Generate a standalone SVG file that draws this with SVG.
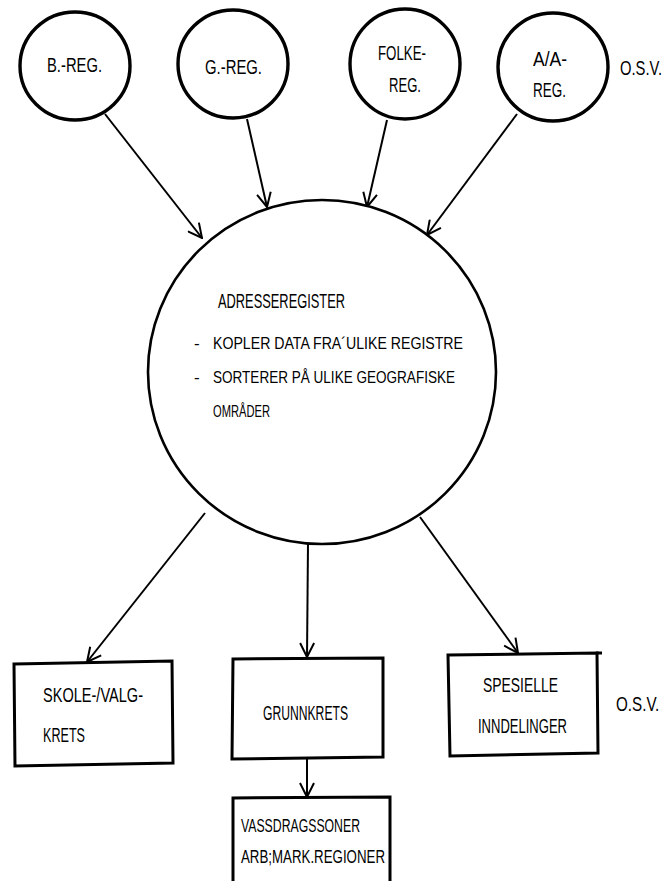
<svg xmlns="http://www.w3.org/2000/svg" width="671" height="881" viewBox="0 0 671 881">
  <style>
    .bg { fill: #ffffff; }
    .reg { fill: #ffffff; stroke: #000000; stroke-width: 3.4; }
    .main { fill: #ffffff; stroke: #000000; stroke-width: 2.6; }
    .box { fill: #ffffff; stroke: #000000; stroke-width: 3; stroke-linejoin: miter; }
    .conn { fill: none; stroke: #000000; stroke-width: 2; marker-end: url(#arrow); }
    .t { font-family: "Liberation Sans Narrow", "Liberation Sans", Arial, sans-serif; font-size: 21px; fill: #000000; }
    .tm { font-family: "Liberation Sans", Arial, sans-serif; font-size: 17px; fill: #000000; }
    .ts { font-family: "Liberation Sans Narrow", "Liberation Sans", Arial, sans-serif; font-size: 18px; fill: #000000; }
    .to { font-family: "Liberation Sans", Arial, sans-serif; font-size: 20px; fill: #000000; }
  </style>
  <defs>
    <marker id="arrow" viewBox="0 0 16 16" refX="15" refY="8" markerWidth="16" markerHeight="16" markerUnits="userSpaceOnUse" orient="auto">
      <path d="M1,1 L15,8 L1,15" fill="none" stroke="#000000" stroke-width="2"/>
    </marker>
  </defs>
  <rect class="bg" x="0" y="0" width="671" height="881"/>

  <g id="connectors">
    <line class="conn" x1="105" y1="114" x2="202" y2="238"/>
    <line class="conn" x1="247" y1="119" x2="267" y2="207"/>
    <line class="conn" x1="387" y1="120" x2="367" y2="207"/>
    <line class="conn" x1="517" y1="114" x2="427" y2="235"/>
    <line class="conn" x1="205" y1="513" x2="87" y2="662"/>
    <line class="conn" x1="308" y1="543" x2="307" y2="657"/>
    <line class="conn" x1="420" y1="517" x2="518" y2="653"/>
    <line class="conn" x1="307" y1="759" x2="307" y2="797"/>
  </g>

  <g id="b-reg">
    <ellipse class="reg" cx="75" cy="66" rx="55" ry="54"/>
    <text class="t" x="47" y="72" textLength="55" lengthAdjust="spacingAndGlyphs">B.-REG.</text>
  </g>
  <g id="g-reg">
    <ellipse class="reg" cx="233" cy="64" rx="55" ry="54"/>
    <text class="t" x="205" y="74" textLength="57" lengthAdjust="spacingAndGlyphs">G.-REG.</text>
  </g>
  <g id="folke-reg">
    <ellipse class="reg" cx="405" cy="64" rx="55" ry="55"/>
    <text class="t" x="378" y="60" textLength="48" lengthAdjust="spacingAndGlyphs">FOLKE-</text>
    <text class="t" x="389" y="92" textLength="32" lengthAdjust="spacingAndGlyphs">REG.</text>
  </g>
  <g id="aa-reg">
    <ellipse class="reg" cx="553" cy="67" rx="55" ry="54"/>
    <text class="t" x="533" y="66" textLength="34" lengthAdjust="spacingAndGlyphs">A/A-</text>
    <text class="t" x="533" y="97" textLength="33" lengthAdjust="spacingAndGlyphs">REG.</text>
  </g>
  <g id="osv-top">
    <text class="to" transform="translate(620,75) scale(0.74,1)">O.S.V.</text>
  </g>

  <g id="adresseregister">
    <ellipse class="main" cx="322" cy="372" rx="174" ry="172"/>
    <text class="t" x="218" y="308" font-size="20" textLength="127" lengthAdjust="spacingAndGlyphs">ADRESSEREGISTER</text>
    <text class="tm" x="194" y="349">-</text>
    <text class="tm" x="213" y="349" textLength="250" lengthAdjust="spacingAndGlyphs">KOPLER DATA FRA´ULIKE REGISTRE</text>
    <text class="tm" x="194" y="383">-</text>
    <text class="tm" x="213" y="383" textLength="242" lengthAdjust="spacingAndGlyphs">SORTERER PÅ ULIKE GEOGRAFISKE</text>
    <text class="tm" x="213" y="417" textLength="57" lengthAdjust="spacingAndGlyphs">OMRÅDER</text>
  </g>

  <g id="skole-valgkrets">
    <path class="box" d="M14,664 L172,661 L173,763 L15,766 Z"/>
    <text class="t" x="43" y="702" textLength="100" lengthAdjust="spacingAndGlyphs">SKOLE-/VALG-</text>
    <text class="t" x="43" y="742" textLength="42" lengthAdjust="spacingAndGlyphs">KRETS</text>
  </g>
  <g id="grunnkrets">
    <path class="box" d="M233,659 L383,658 L383,757 L232,759 Z"/>
    <text class="t" x="263" y="720" textLength="85" lengthAdjust="spacingAndGlyphs">GRUNNKRETS</text>
  </g>
  <g id="spesielle">
    <path class="box" d="M448,655 L597,653 L598,753 L450,756 Z"/>
    <line x1="596" y1="653" x2="602" y2="653" stroke="#000" stroke-width="3"/>
    <text class="t" x="483" y="692" textLength="75" lengthAdjust="spacingAndGlyphs">SPESIELLE</text>
    <text class="t" x="478" y="733" textLength="89" lengthAdjust="spacingAndGlyphs">INNDELINGER</text>
  </g>
  <g id="osv-bottom">
    <text class="to" transform="translate(616,711) scale(0.76,1)">O.S.V.</text>
  </g>
  <g id="vassdrag">
    <path class="box" d="M233,890 L233,798 L390,797 L390,890"/>
    <text class="ts" x="241" y="832" textLength="119" lengthAdjust="spacingAndGlyphs">VASSDRAGSSONER</text>
    <text class="ts" x="241" y="863" textLength="144" lengthAdjust="spacingAndGlyphs">ARB;MARK.REGIONER</text>
  </g>
</svg>
